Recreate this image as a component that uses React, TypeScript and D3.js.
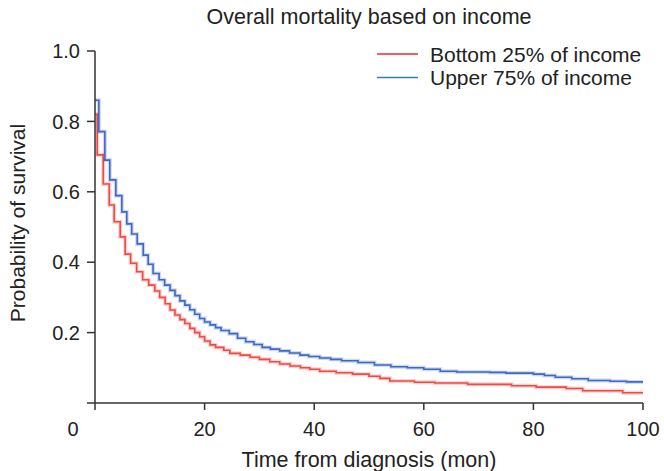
import * as d3 from "d3";
import React from "react";

// survival curves (months, probability)
const bottomTimes = [0, 0.4, 1.5, 2.6, 3.5, 4.6, 5.5, 6.5, 7.6, 8.7, 9.8, 10.9, 11.8, 12.8, 13.7, 14.6, 15.5, 16.4, 17.3, 18.2, 19.1, 20, 21, 22, 23.5, 24.6, 26.5, 28.3, 30, 31.9, 33.7, 35.6, 37.5, 39.2, 41, 44, 47, 50, 52, 53.8, 58.3, 62, 68, 76, 80.5, 86, 89, 96.3, 100];
const bottomSurv = [0.82, 0.705, 0.622, 0.5625, 0.515, 0.472, 0.423, 0.397, 0.373, 0.35, 0.335, 0.318, 0.3, 0.282, 0.264, 0.25, 0.237, 0.226, 0.212, 0.2, 0.188, 0.176, 0.165, 0.158, 0.15, 0.141, 0.136, 0.13, 0.124, 0.117, 0.111, 0.105, 0.1, 0.096, 0.09, 0.086, 0.082, 0.076, 0.07, 0.0625, 0.059, 0.057, 0.053, 0.049, 0.045, 0.041, 0.035, 0.029, 0.029];

const upperTimes = [0, 0.7, 1.8, 2.7, 3.8, 4.9, 5.8, 6.7, 7.7, 8.8, 9.7, 10.6, 11.7, 12.7, 13.7, 14.6, 15.5, 16.4, 17.3, 18.2, 19.1, 20, 21, 22, 23, 24.5, 26, 27.5, 29, 30.5, 32, 33.7, 35.5, 37.4, 39, 41, 43, 45, 48, 51, 54, 57, 60, 63, 66, 72, 75, 80, 82, 84, 87, 90, 94, 97, 100];
const upperSurv = [0.86, 0.771, 0.69, 0.634, 0.589, 0.543, 0.509, 0.48, 0.452, 0.42, 0.394, 0.368, 0.35, 0.335, 0.32, 0.305, 0.29, 0.278, 0.265, 0.252, 0.24, 0.23, 0.222, 0.214, 0.206, 0.197, 0.184, 0.174, 0.166, 0.158, 0.153, 0.148, 0.142, 0.136, 0.132, 0.128, 0.124, 0.12, 0.115, 0.108, 0.103, 0.1, 0.096, 0.09, 0.088, 0.087, 0.085, 0.082, 0.078, 0.073, 0.069, 0.064, 0.062, 0.06, 0.06];

const xTicks = [20, 40, 60, 80, 100];
const yTicks = [0.2, 0.4, 0.6, 0.8, 1.0];
const legendLabels = ["Bottom 25% of income", "Upper 75% of income"];

export default function App() {
  const WIDTH = 664;
  const HEIGHT = 471;
  const margin = { top: 51, right: 21, bottom: 68, left: 95 };
  const font = "'Liberation Sans', Arial, sans-serif";
  const axisColor = "#333";
  const textColor = "#222";

  const xScale = d3.scaleLinear().domain([0, 100]).range([margin.left, WIDTH - margin.right]);
  const yScale = d3.scaleLinear().domain([0, 1]).range([HEIGHT - margin.bottom, margin.top]);

  const line = d3
    .line<[number, number]>()
    .x(d => xScale(d[0]))
    .y(d => yScale(d[1]))
    .curve(d3.curveStepAfter);

  const series = [
    { name: legendLabels[0], pts: bottomTimes.map((t, i) => [t, bottomSurv[i]] as [number, number]), color: "#ee4a46", legend: "#e8283a" },
    { name: legendLabels[1], pts: upperTimes.map((t, i) => [t, upperSurv[i]] as [number, number]), color: "#3f68c4", legend: "#2f7fc6" },
  ];

  const y0 = yScale(0);
  const x0 = xScale(0);

  return (
    <svg width={WIDTH} height={HEIGHT} style={{ position: "absolute", left: 0, top: 0, background: "#fff" }}>
      {/* title */}
      <text x={369} y={24} fontSize={21.5} fontFamily={font} textAnchor="middle" fill={textColor}>
        Overall mortality based on income
      </text>

      {/* curves, with a soft halo like the reference */}
      {series.map((s, i) => (
        <g key={i}>
          <path d={line(s.pts) || ""} fill="none" stroke={s.color} strokeOpacity={0.25} strokeWidth={4} />
          <path d={line(s.pts) || ""} fill="none" stroke={s.color} strokeWidth={1.6} />
        </g>
      ))}

      {/* y axis */}
      <line x1={x0} x2={x0} y1={yScale(1)} y2={y0} stroke={axisColor} strokeWidth={1.5} />
      {yTicks.map((d, i) => (
        <g key={i}>
          <line x1={x0 - 8} x2={x0} y1={yScale(d)} y2={yScale(d)} stroke={axisColor} strokeWidth={1.5} />
          <text x={x0 - 15} y={yScale(d)} dy="0.36em" fontSize={20} fontFamily={font} textAnchor="end" fill={textColor}>
            {d.toFixed(1)}
          </text>
        </g>
      ))}

      {/* x axis */}
      <line x1={x0 - 8} x2={xScale(100)} y1={y0} y2={y0} stroke={axisColor} strokeWidth={1.5} />
      <line x1={x0} x2={x0} y1={y0} y2={y0 + 7} stroke={axisColor} strokeWidth={1.5} />
      <text x={73} y={436} fontSize={20} fontFamily={font} textAnchor="middle" fill={textColor}>0</text>
      {xTicks.map((d, i) => (
        <g key={i}>
          <line x1={xScale(d)} x2={xScale(d)} y1={y0} y2={y0 + 7} stroke={axisColor} strokeWidth={1.5} />
          <text x={xScale(d)} y={436} fontSize={20} fontFamily={font} textAnchor="middle" fill={textColor}>
            {d}
          </text>
        </g>
      ))}

      {/* axis titles */}
      <text x={369} y={467} fontSize={21.5} fontFamily={font} textAnchor="middle" fill={textColor}>
        Time from diagnosis (mon)
      </text>
      <text
        transform={`translate(25, 223) rotate(-90)`}
        fontSize={21}
        fontFamily={font}
        textAnchor="middle"
        fill={textColor}
      >
        Probability of survival
      </text>

      {/* legend */}
      {series.map((s, i) => (
        <g key={i} transform={`translate(377, ${54 + i * 23.5})`}>
          <line x1={0} x2={41} y1={0} y2={0} stroke={s.legend} strokeWidth={1.6} />
          <text x={53} y={0} dy="0.36em" fontSize={21} fontFamily={font} fill={textColor}>
            {s.name}
          </text>
        </g>
      ))}
    </svg>
  );
}
